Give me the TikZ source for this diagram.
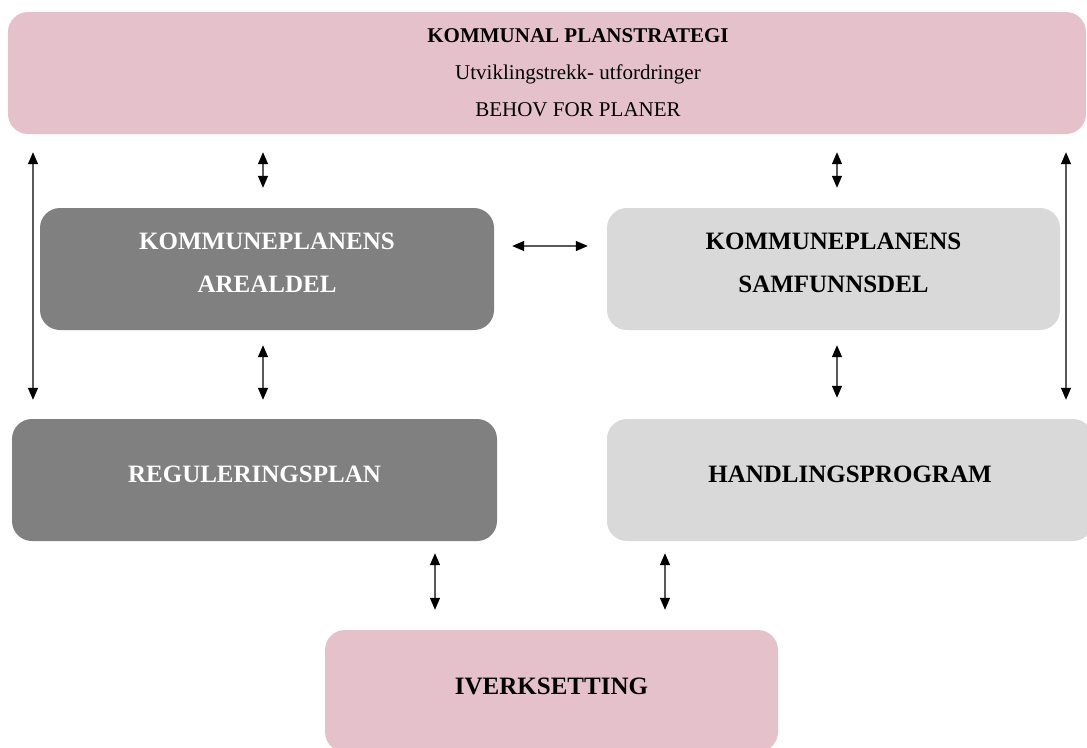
\documentclass[tikz,border=0pt]{standalone}
\usepackage{fontspec}
\setmainfont{Liberation Serif}
\usetikzlibrary{arrows.meta}
\definecolor{planpink}{HTML}{E5C1CB}
\definecolor{darkbox}{HTML}{808080}
\definecolor{lightbox}{HTML}{D9D9D9}
\newcommand{\topline}[1]{\hspace*{62pt}#1}
\begin{document}
\begin{tikzpicture}[x=1pt,y=-1pt,
  box/.style={rounded corners=20pt, inner sep=0pt, align=center,
    font=\fontsize{25}{43}\selectfont\bfseries},
  darkbox/.style={box, fill=darkbox, text=white},
  lightbox/.style={box, fill=lightbox, text=black},
  pinkbox/.style={box, fill=planpink, text=black},
  biarrow/.style={draw=black!65, line width=1.3pt,
    {Triangle[length=12pt,width=10pt,fill=black,color=black]}-{Triangle[length=12pt,width=10pt,fill=black,color=black]}}
]
\useasboundingbox (0,0) rectangle (1087,747);
\clip (0,0) rectangle (1087,747);

% boxes
\node[pinkbox, minimum width=1078, minimum height=122, text depth=-6pt,
  font=\fontsize{21}{37}\selectfont] (strategi) at (547,73)
  {\topline{\bfseries KOMMUNAL PLANSTRATEGI}\\\topline{Utviklingstrekk- utfordringer}\\\topline{BEHOV FOR PLANER}};
\node[darkbox, minimum width=454, minimum height=122, text depth=12pt] (areal) at (267,269)
  {KOMMUNEPLANENS\\AREALDEL};
\node[lightbox, minimum width=453, minimum height=122, text depth=12pt] (samf) at (833.5,269)
  {KOMMUNEPLANENS\\SAMFUNNSDEL};
\node[darkbox, minimum width=485, minimum height=122, text depth=12pt] (regul) at (254.5,480)
  {REGULERINGSPLAN};
\node[lightbox, minimum width=486, minimum height=122, text depth=12pt] (handl) at (850,480)
  {HANDLINGSPROGRAM};
\node[pinkbox, minimum width=453, minimum height=122, text depth=10pt] (iverk) at (551.5,691)
  {IVERKSETTING};

% arrow positions
\coordinate (xl) at (33,0);
\coordinate (xa) at (263,0);
\coordinate (xs) at (837,0);
\coordinate (xr) at (1066,0);
\coordinate (xb1) at (435,0);
\coordinate (xb2) at (665,0);
\coordinate (yh) at (0,246);

% connectors
\draw[biarrow, shorten <=18pt, shorten >=19pt] (strategi.south -| xl) -- (regul.north -| xl);
\draw[biarrow, shorten <=18pt, shorten >=20pt] (strategi.south -| xa) -- (areal.north -| xa);
\draw[biarrow, shorten <=15pt, shorten >=19pt] (areal.south -| xa) -- (regul.north -| xa);
\draw[biarrow, shorten <=18pt, shorten >=19pt] (areal.east |- yh) -- (samf.west |- yh);
\draw[biarrow, shorten <=18pt, shorten >=20pt] (strategi.south -| xs) -- (samf.north -| xs);
\draw[biarrow, shorten <=15pt, shorten >=21pt] (samf.south -| xs) -- (handl.north -| xs);
\draw[biarrow, shorten <=18pt, shorten >=19pt] (strategi.south -| xr) -- (handl.north -| xr);
\draw[biarrow, shorten <=12pt, shorten >=20pt] (regul.south -| xb1) -- (iverk.north -| xb1);
\draw[biarrow, shorten <=12pt, shorten >=20pt] (handl.south -| xb2) -- (iverk.north -| xb2);
\end{tikzpicture}
\end{document}
